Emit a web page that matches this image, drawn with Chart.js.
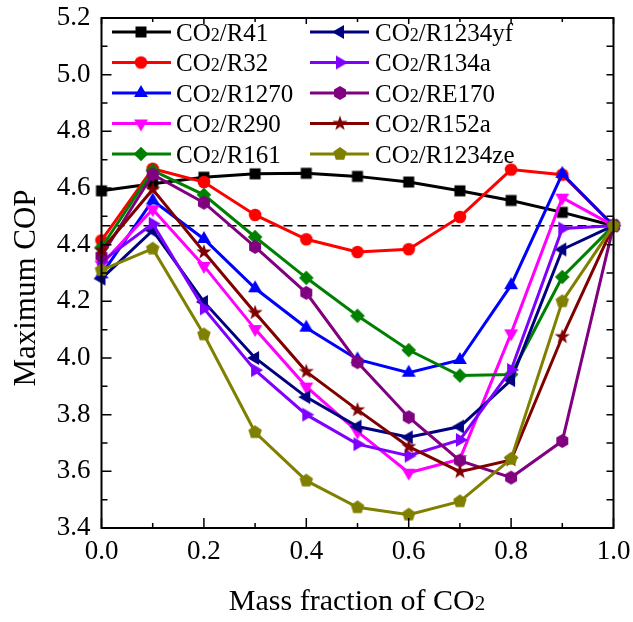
<!DOCTYPE html>
<html><head><meta charset="utf-8">
<script src="https://cdn.jsdelivr.net/npm/chart.js@4.4.1/dist/chart.umd.min.js"></script>
<style>html,body{margin:0;padding:0;background:#fff;}#wrap{width:633px;height:622px;}</style>
</head><body><div id="wrap"><canvas id="c" width="633" height="622"></canvas></div>
<script>
const massFraction = [0.0, 0.1, 0.2, 0.3, 0.4, 0.5, 0.6, 0.7, 0.8, 0.9, 1.0];
const copR41     = [4.590, 4.615, 4.638, 4.650, 4.652, 4.641, 4.621, 4.590, 4.556, 4.514, 4.467];
const copR32     = [4.415, 4.668, 4.621, 4.505, 4.419, 4.374, 4.384, 4.498, 4.665, 4.647, 4.467];
const copR1270   = [4.295, 4.556, 4.420, 4.246, 4.107, 3.995, 3.948, 3.993, 4.257, 4.650, 4.467];
const copR290    = [4.330, 4.525, 4.325, 4.102, 3.899, 3.740, 3.595, 3.643, 4.087, 4.566, 4.467];
const copR161    = [4.390, 4.662, 4.576, 4.427, 4.283, 4.149, 4.028, 3.938, 3.942, 4.286, 4.467];
const copR1234yf = [4.280, 4.450, 4.198, 4.000, 3.862, 3.758, 3.720, 3.758, 3.922, 4.383, 4.467];
const copR134a   = [4.340, 4.474, 4.175, 3.957, 3.800, 3.696, 3.655, 3.711, 3.958, 4.457, 4.467];
const copRE170   = [4.360, 4.648, 4.548, 4.392, 4.230, 3.985, 3.791, 3.638, 3.578, 3.707, 4.467];
const copR152a   = [4.380, 4.595, 4.374, 4.160, 3.952, 3.817, 3.687, 3.599, 3.640, 4.075, 4.467];
const copR1234ze = [4.310, 4.386, 4.083, 3.738, 3.567, 3.473, 3.447, 3.494, 3.644, 4.200, 4.467];
const refLineX = [0.0, 1.0];
const refLineY = [4.467, 4.467];
const seriesNames = ['R41','R32','R1270','R290','R161','R1234yf','R134a','RE170','R152a','R1234ze'];
const xTickValues = [0.0, 0.2, 0.4, 0.6, 0.8, 1.0];
const yTickValues = [3.4, 3.6, 3.8, 4.0, 4.2, 4.4, 4.6, 4.8, 5.0, 5.2];
const xTitleParts = [['Mass fraction of CO', false], ['2', true]];
const yTitleText = 'Maximum COP';

const seriesData = [copR41, copR32, copR1270, copR290, copR161, copR1234yf, copR134a, copRE170, copR152a, copR1234ze];
const colors = ['#000000','#ff0000','#0000ff','#ff00ff','#008000','#000080','#8000ff','#800080','#800000','#808000'];
const shapes = ['square','circle','up','down','diamond','left','right','hexagon','star','pentagon'];

function polyPts(ctx, pts){ ctx.beginPath(); pts.forEach((p,i)=> i?ctx.lineTo(p[0],p[1]):ctx.moveTo(p[0],p[1])); ctx.closePath(); ctx.fill(); }
function makeMarker(shape, color){
  const s = 18, c = document.createElement('canvas'); c.width = s; c.height = s;
  const ctx = c.getContext('2d'); ctx.fillStyle = color; ctx.translate(s/2, s/2);
  const reg = (n, r, a0) => { const p=[]; for(let i=0;i<n;i++){const a=a0+i*2*Math.PI/n; p.push([r*Math.cos(a), r*Math.sin(a)]);} return p; };
  switch(shape){
    case 'square': ctx.fillRect(-5.5,-5.5,11,11); break;
    case 'circle': ctx.beginPath(); ctx.arc(0,0,6.3,0,2*Math.PI); ctx.fill(); break;
    case 'up': polyPts(ctx, reg(3, 8, -Math.PI/2)); break;
    case 'down': polyPts(ctx, reg(3, 8, Math.PI/2)); break;
    case 'left': polyPts(ctx, reg(3, 8, Math.PI)); break;
    case 'right': polyPts(ctx, reg(3, 8, 0)); break;
    case 'diamond': polyPts(ctx, reg(4, 7.3, -Math.PI/2)); break;
    case 'hexagon': polyPts(ctx, reg(6, 6.9, -Math.PI/2)); break;
    case 'pentagon': polyPts(ctx, reg(5, 7.1, -Math.PI/2)); break;
    case 'star': { const p=[]; for(let i=0;i<10;i++){const a=-Math.PI/2+i*Math.PI/5; const r=i%2?3.2:8; p.push([r*Math.cos(a), r*Math.sin(a)]);} polyPts(ctx,p); break; }
  }
  return c;
}
const markers = shapes.map((s,i)=>makeMarker(s, colors[i]));

const datasets = seriesData.map((vals, i) => ({
  label: 'CO₂/' + seriesNames[i],
  data: massFraction.map((x, j) => ({x: x, y: vals[j]})),
  borderColor: colors[i], backgroundColor: colors[i],
  borderWidth: 3, pointStyle: markers[i], pointRadius: 8, pointHoverRadius: 8,
  tension: 0, clip: false, order: 20 - i
}));
datasets.push({
  label: 'reference',
  data: refLineX.map((x, j) => ({x: x, y: refLineY[j]})),
  borderColor: '#000', borderWidth: 1.5, borderDash: [9, 5], pointRadius: 0, order: 30, clip: false
});

const SERIF = "'Liberation Serif', 'Times New Roman', serif";

function drawSubText(ctx, parts, x, y, big, small){
  let cx = x;
  parts.forEach(([t, sub]) => {
    ctx.font = (sub ? small : big) + 'px ' + SERIF;
    ctx.fillText(t, cx, y);
    cx += ctx.measureText(t).width;
  });
  return cx;
}
function measureSub(ctx, parts, big, small){
  let w = 0; parts.forEach(([t, sub]) => { ctx.font = (sub ? small : big) + 'px ' + SERIF; w += ctx.measureText(t).width; }); return w;
}

const framePlugin = {
  id: 'frame',
  afterDatasetsDraw(chart){
    const ctx = chart.ctx, a = chart.chartArea, xs = chart.scales.x, ys = chart.scales.y;
    ctx.save();
    ctx.strokeStyle = '#000'; ctx.lineWidth = 2;
    ctx.strokeRect(a.left, a.top, a.right - a.left, a.bottom - a.top);
    ctx.lineWidth = 1.5;
    ctx.beginPath();
    for (let k = 0; k <= 10; k++){
      const px = xs.getPixelForValue(k / 10);
      const len = k % 2 === 0 ? 10 : 5;
      ctx.moveTo(px, a.bottom); ctx.lineTo(px, a.bottom - len);
      ctx.moveTo(px, a.top); ctx.lineTo(px, a.top + (k % 2 === 0 ? 6 : 4));
    }
    for (let k = 0; k <= 18; k++){
      const py = ys.getPixelForValue(3.4 + k * 0.1);
      const len = k % 2 === 0 ? 10 : 6;
      ctx.moveTo(a.left, py); ctx.lineTo(a.left + len, py);
      ctx.moveTo(a.right, py); ctx.lineTo(a.right - 7, py);
    }
    ctx.stroke();

    // legend
    const rowY = [32, 62.5, 93, 123.5, 154];
    const cols = [{l0: 112, l1: 171, m: 141, t: 176}, {l0: 310, l1: 369, m: 340, t: 375}];
    ctx.fillStyle = '#000'; ctx.textBaseline = 'alphabetic'; ctx.textAlign = 'left';
    for (let i = 0; i < 10; i++){
      const col = cols[Math.floor(i / 5)], y = rowY[i % 5];
      ctx.strokeStyle = colors[i]; ctx.lineWidth = 3;
      ctx.beginPath(); ctx.moveTo(col.l0, y); ctx.lineTo(col.l1, y); ctx.stroke();
      ctx.drawImage(markers[i], col.m - 9, y - 9);
      ctx.fillStyle = '#000';
      drawSubText(ctx, [['CO', false], ['2', true], ['/' + seriesNames[i], false]], col.t, y + 8.5, 25, 18);
    }
    // x axis title
    const w = measureSub(ctx, xTitleParts, 30, 21);
    drawSubText(ctx, xTitleParts, 357 - w / 2, 610, 30, 21);
    // y axis title
    ctx.save();
    ctx.translate(27, 288); ctx.rotate(-Math.PI / 2);
    ctx.font = '31px ' + SERIF; ctx.textAlign = 'center'; ctx.textBaseline = 'middle';
    ctx.fillText(yTitleText, 0, 0);
    ctx.restore();
    ctx.restore();
  }
};

new Chart(document.getElementById('c'), {
  type: 'line',
  data: { datasets: datasets },
  options: {
    responsive: false, animation: false, devicePixelRatio: 1,
    layout: { padding: { top: 18, right: 19.5, left: 0, bottom: 0 } },
    plugins: { legend: { display: false }, tooltip: { enabled: false } },
    scales: {
      x: {
        type: 'linear', min: 0, max: 1,
        afterBuildTicks: s => { s.ticks = xTickValues.map(v => ({value: v})); },
        afterFit: s => { s.height = 94; s.paddingLeft = 0; s.paddingRight = 0; },
        ticks: { autoSkip: false, maxRotation: 0, color: '#000', padding: 8,
          font: { family: SERIF, size: 27 }, callback: v => Number(v).toFixed(1) },
        grid: { display: false, drawTicks: false },
        border: { display: false }
      },
      y: {
        type: 'linear', min: 3.4, max: 5.2,
        afterBuildTicks: s => { s.ticks = yTickValues.map(v => ({value: v})); },
        afterFit: s => { s.width = 101.5; s.paddingTop = 0; s.paddingBottom = 0; },
        ticks: { color: '#000', padding: 11, font: { family: SERIF, size: 27 },
          callback: v => Number(v).toFixed(1) },
        grid: { display: false, drawTicks: false },
        border: { display: false },
        title: { display: false }
      }
    }
  },
  plugins: [framePlugin]
});
</script>
</body></html>
